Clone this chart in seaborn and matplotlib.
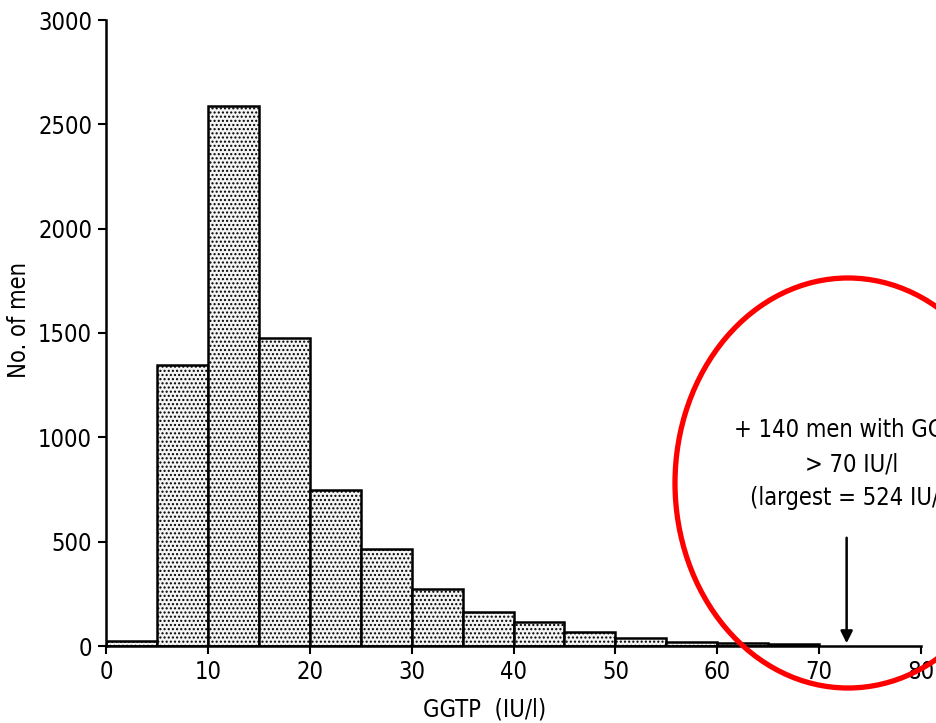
import numpy as np
import pandas as pd
import seaborn as sns
import matplotlib
matplotlib.use("Agg")
import matplotlib.pyplot as plt
from matplotlib.patches import Ellipse
from matplotlib import font_manager as fm

# Data (bins of 5 IU/l)
bin_left = [0, 5, 10, 15, 20, 25, 30, 35, 40, 45, 50, 55, 60, 65]
counts = [25, 1345, 2590, 1475, 750, 465, 273, 163, 115, 67, 38, 19, 14, 8]
x_ticks = [0, 10, 20, 30, 40, 50, 60, 70, 80]
y_ticks = [0, 500, 1000, 1500, 2000, 2500, 3000]
annot_lines = ["+ 140 men with GGTP", "> 70 IU/l", "(largest = 524 IU/l)"]
arrow_x = 72.7
arrow_top = 532

# find a condensed / narrow face if one is installed
cands = []
for f in fm.fontManager.ttflist:
    nm = f.name
    st = str(f.stretch)
    if ('Narrow' in nm or 'Condensed' in nm or st in ('condensed', 'semi-condensed', 'extra-condensed')) and f.weight in (400, 'normal', 'regular') and f.style == 'normal':
        cands.append((nm, st))
prefs = ['Liberation Sans Narrow', 'DejaVu Sans', 'Roboto', 'Open Sans', 'Noto Sans']
chosen = None
for p in prefs:
    for nm, st in cands:
        if nm.startswith(p):
            chosen = (nm, st)
            break
    if chosen:
        break
if chosen is None and cands:
    chosen = cands[0]

sns.set_style("ticks")
if chosen:
    plt.rcParams['font.family'] = [chosen[0], 'DejaVu Sans']
    if chosen[1] != 'normal' and str(chosen[1]) != '500':
        plt.rcParams['font.stretch'] = chosen[1]
else:
    plt.rcParams['font.family'] = ['DejaVu Sans']
plt.rcParams['hatch.color'] = '#808080'
plt.rcParams['hatch.linewidth'] = 1.0
plt.rcParams['text.color'] = 'black'
plt.rcParams['xtick.color'] = 'black'
plt.rcParams['ytick.color'] = 'black'
plt.rcParams['axes.labelcolor'] = 'black'
plt.rcParams['axes.edgecolor'] = 'black'

df = pd.DataFrame({"ggtp": [b + 2.5 for b in bin_left], "n": counts})

fig = plt.figure(figsize=(9.36, 7.23), dpi=100)
ax = fig.add_axes([106/936, 1 - 646/723, (921-106)/936, (646-20)/723])

sns.histplot(data=df, x="ggtp", weights="n", binwidth=5, binrange=(0, 70),
             color="#f2f2f2", edgecolor="black", linewidth=1.8, alpha=1, ax=ax)
for p in ax.patches:
    p.set_hatch('....')
    p.set_facecolor('#f4f4f4')

ax.set_xlim(0, 80)
ax.set_ylim(0, 3000)
ax.set_xticks(x_ticks)
ax.set_yticks(y_ticks)
ax.tick_params(axis='both', labelsize=17, length=6, width=1.5, direction='out', pad=4)
for s in ['left', 'bottom']:
    ax.spines[s].set_linewidth(1.8)
sns.despine(ax=ax)

ax.set_xlabel("GGTP  (IU/l)", fontsize=17)
ax.set_ylabel("No. of men", fontsize=17)
ax.xaxis.set_label_coords((485-106)/(921-106), -0.082)
ax.yaxis.set_label_coords((31-106)/(921-106), (646-320)/(646-20))

ax.annotate("", xy=(arrow_x, 0), xytext=(arrow_x, arrow_top),
            arrowprops=dict(arrowstyle="-|>", color="black", lw=1.8, mutation_scale=18))
ys = [1035, 870, 710]
for line, yv in zip(annot_lines, ys):
    ax.text(73.2, yv, line, ha="center", va="center", fontsize=17, clip_on=False)

ell = Ellipse((848/936, 1 - 483/723), 346/936, 410/723, transform=fig.transFigure,
              fill=False, edgecolor="#ff0000", linewidth=3.8, clip_on=False)
fig.patches.append(ell)

fig.savefig("out.png", dpi=100)
